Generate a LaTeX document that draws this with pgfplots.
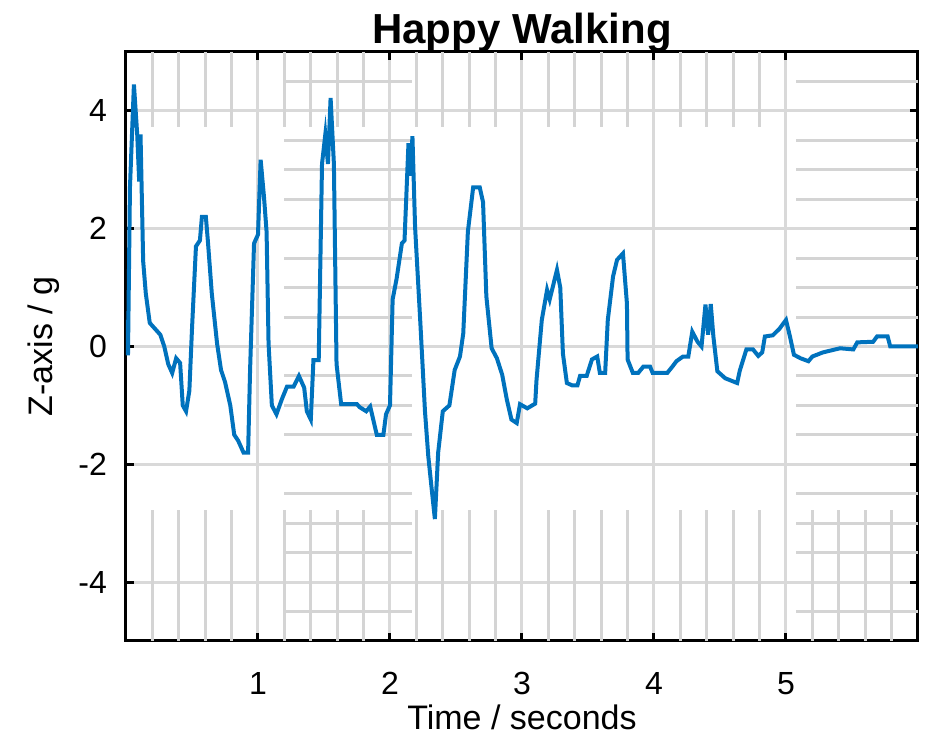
\documentclass[border=0pt]{standalone}
\usepackage{fontspec}
\setmainfont{Liberation Sans}
\usepackage{pgfplots}
\pgfplotsset{compat=1.18}
\definecolor{mblue}{RGB}{0,114,189}
\colorlet{mgrid}{black!17}
\begin{document}
\begin{tikzpicture}
\path[use as bounding box] (0,0) rectangle (464pt,374pt);
\begin{axis}[
  at={(63pt,53.5pt)}, anchor=south west,
  scale only axis, width=396pt, height=294.5pt,
  xmin=0, xmax=6, ymin=-5, ymax=5,
  xtick={1,2,3,4,5}, ytick={-4,-2,0,2,4},
  grid=major,
  major grid style={line width=1.5pt, color=black!15},
  axis line style={line width=1.5pt, black},
  tick style={line width=1.5pt, black},
  tick align=inside, major tick length=4pt,
  /pgf/number format/assume math mode=true,
  tick label style={font=\fontsize{16}{18}\selectfont},
  xticklabel style={yshift=-12pt},
  yticklabel style={xshift=-6pt},
  title={Happy Walking},
  title style={font=\fontsize{21}{24}\selectfont\bfseries, at={(axis description cs:0.5,1)}, anchor=south, inner sep=0pt, yshift=-6.5pt},
  xlabel={Time / seconds},
  xlabel style={font=\fontsize{17}{19}\selectfont, at={(axis description cs:0.5,0)}, anchor=center, yshift=-38pt},
  ylabel={Z-axis / g},
  ylabel style={font=\fontsize{17}{19}\selectfont, at={(axis description cs:0,0.5)}, anchor=center, yshift=41pt},
]
% partial minor grid patches as in the reference rendering
\pgfplotsinvokeforeach{0.2,0.4,0.6,0.8,1.2,1.4,1.6,1.8,2.2,2.4,2.6,2.8,3.2,3.4,3.6,3.8,4.2,4.4,4.6,4.8}{
  \draw[mgrid, line width=1.5pt] (axis cs:#1,3.73) -- (axis cs:#1,5);
}
\pgfplotsinvokeforeach{0.2,0.4,0.6,0.8,1.2,1.4,1.6,1.8,2.2,2.4,2.6,2.8,3.2,3.4,3.6,3.8,4.2,4.4,4.6,4.8,5.2,5.4,5.6,5.8}{
  \draw[mgrid, line width=1.5pt] (axis cs:#1,-5) -- (axis cs:#1,-2.78);
}
\pgfplotsinvokeforeach{-4.5,-3.5,-3,-2.5,-1.5,-1,-0.5,0.5,1,1.5,2.5,3,3.5,4.5}{
  \draw[mgrid, line width=1.5pt] (axis cs:1.2,#1) -- (axis cs:2.167,#1);
  \draw[mgrid, line width=1.5pt] (axis cs:5.076,#1) -- (axis cs:6,#1);
}
\addplot[mblue, line width=2pt] coordinates {
(0.000,0.45) (0.015,-0.15) (0.030,2.70) (0.060,4.45) (0.085,3.60) (0.100,2.80)
(0.110,3.60) (0.130,1.45) (0.150,0.90) (0.180,0.40) (0.220,0.30) (0.260,0.20)
(0.290,0.00) (0.320,-0.30) (0.350,-0.45) (0.380,-0.20) (0.410,-0.28) (0.430,-1.00)
(0.455,-1.10) (0.480,-0.75) (0.500,0.30) (0.530,1.70) (0.560,1.80) (0.575,2.20)
(0.605,2.20) (0.620,1.80) (0.650,0.90) (0.690,0.05) (0.720,-0.40) (0.750,-0.60)
(0.790,-1.00) (0.820,-1.50) (0.850,-1.60) (0.890,-1.80) (0.925,-1.80) (0.940,-0.40)
(0.970,1.75) (1.000,1.90) (1.020,3.17) (1.045,2.55) (1.065,1.95) (1.080,0.05)
(1.105,-1.00) (1.140,-1.15) (1.180,-0.90) (1.220,-0.68) (1.270,-0.68) (1.310,-0.50)
(1.350,-0.70) (1.370,-1.10) (1.400,-1.24) (1.420,-0.23) (1.460,-0.23) (1.485,3.10)
(1.510,3.60) (1.530,3.10) (1.550,4.22) (1.575,3.10) (1.595,-0.30) (1.630,-0.98)
(1.690,-0.98) (1.750,-0.98) (1.770,-1.03) (1.820,-1.10) (1.850,-1.02) (1.900,-1.50)
(1.950,-1.50) (1.970,-1.15) (2.000,-1.00) (2.020,0.80) (2.050,1.15) (2.090,1.75)
(2.110,1.80) (2.140,3.45) (2.155,2.90) (2.170,3.57) (2.190,2.03) (2.230,0.40)
(2.265,-1.10) (2.290,-1.86) (2.315,-2.40) (2.340,-2.93) (2.365,-1.80) (2.400,-1.10)
(2.450,-1.00) (2.490,-0.40) (2.530,-0.17) (2.555,0.22) (2.590,1.95) (2.630,2.70)
(2.680,2.70) (2.705,2.45) (2.730,0.85) (2.770,-0.03) (2.810,-0.20) (2.850,-0.48)
(2.885,-0.90) (2.920,-1.24) (2.960,-1.30) (2.985,-0.98) (3.040,-1.05) (3.100,-0.97)
(3.110,-0.57) (3.150,0.45) (3.190,0.96) (3.210,0.80) (3.265,1.30) (3.290,1.00)
(3.310,-0.12) (3.340,-0.62) (3.380,-0.66) (3.420,-0.66) (3.440,-0.50) (3.490,-0.50)
(3.530,-0.22) (3.570,-0.17) (3.590,-0.45) (3.630,-0.45) (3.650,0.45) (3.690,1.19)
(3.720,1.47) (3.765,1.58) (3.795,0.73) (3.800,-0.22) (3.840,-0.45) (3.880,-0.45)
(3.920,-0.34) (3.970,-0.34) (3.990,-0.45) (4.100,-0.45) (4.140,-0.34) (4.170,-0.25)
(4.220,-0.17) (4.260,-0.17) (4.290,0.25) (4.330,0.08) (4.360,0.00) (4.390,0.71)
(4.410,0.20) (4.430,0.72) (4.450,0.17) (4.480,-0.42) (4.540,-0.54) (4.630,-0.62)
(4.650,-0.41) (4.700,-0.05) (4.750,-0.05) (4.790,-0.16) (4.820,-0.10) (4.840,0.17)
(4.900,0.19) (4.950,0.30) (5.000,0.45) (5.030,0.17) (5.060,-0.14) (5.110,-0.20)
(5.170,-0.25) (5.200,-0.17) (5.280,-0.10) (5.410,-0.03) (5.510,-0.05) (5.540,0.07)
(5.660,0.08) (5.690,0.17) (5.770,0.17) (5.790,0.00) (6.000,0.00)
};
\end{axis}
\end{tikzpicture}
\end{document}
